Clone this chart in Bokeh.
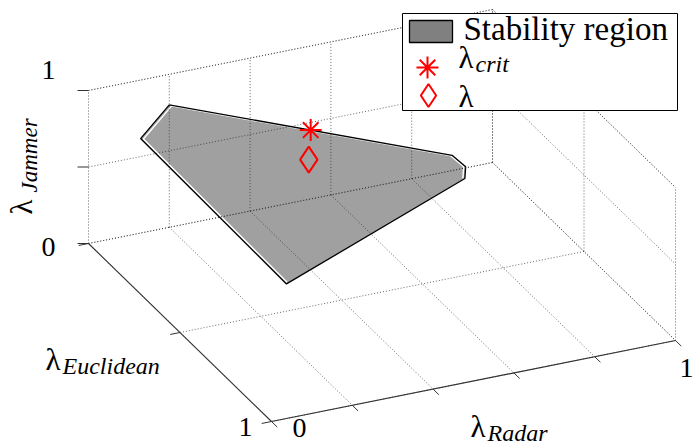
import numpy as np
from bokeh.plotting import figure
from bokeh.models import Range1d
from bokeh.core.properties import value
from bokeh.embed import file_html
from bokeh.resources import INLINE

# ---------------- data (lambda coordinates, each in [0, 1]) ----------------
region_radar = [0.20, 0.90, 0.92, 0.90, 0.25, 0.07]
region_euclid = [0.00, 0.00, 0.03, 0.07, 0.53, 0.13]
region_jammer = [0.80, 0.10, 0.05, 0.03, 0.22, 0.80]

crit_radar, crit_euclid, crit_jammer = [0.55], [0.00], [0.45]
lam_radar, lam_euclid, lam_jammer = [0.50], [0.10], [0.40]

radar_ticks = [0.0, 0.2, 0.4, 0.6, 0.8, 1.0]
euclid_ticks = [0.0, 0.5, 1.0]
jammer_ticks = [0.0, 0.5, 1.0]
radar_tick_labels = ["0", "1"]      # at radar = 0 and 1
euclid_tick_labels = ["1"]          # at euclid = 1
jammer_tick_labels = ["0", "1"]     # at jammer = 0 and 1
legend_labels = ["Stability region", "λ", "crit", "λ"]
axis_labels = ["Radar", "Euclidean", "Jammer"]

# ---------------- orthographic 3-D view ----------------
W, H = 693, 445
ORIGIN = np.array([88.0, 202.0])
AX_R = np.array([404.0, 81.0])
AX_E = np.array([183.0, -178.0])
AX_J = np.array([0.0, 153.0])
BASE_SHIFT = 0.36   # em offset between requested and rendered baseline


def proj(r, e, j):
    r = np.asarray(r, float)
    e = np.asarray(e, float)
    j = np.asarray(j, float)
    x = ORIGIN[0] + r * AX_R[0] + e * AX_E[0] + j * AX_J[0]
    y = ORIGIN[1] + r * AX_R[1] + e * AX_E[1] + j * AX_J[1]
    return x, y


def segs(pairs):
    xs, ys = [], []
    for a, b in pairs:
        x, y = proj([a[0], b[0]], [a[1], b[1]], [a[2], b[2]])
        xs.append(list(x))
        ys.append(list(y))
    return xs, ys


def Y(page_y):
    return H - page_y


def TY(baseline_page_y, size):
    return H - (baseline_page_y - BASE_SHIFT * size)


p = figure(width=W, height=H, x_range=Range1d(0, W), y_range=Range1d(0, H),
           output_backend="svg", toolbar_location=None, min_border=0,
           x_axis_location=None, y_axis_location=None)
p.xgrid.visible = False
p.ygrid.visible = False
p.outline_line_color = None
p.background_fill_color = "white"
p.border_fill_color = "white"

# ---------------- stability region ----------------
px, py = proj(region_radar, region_euclid, region_jammer)
p.patch(list(px), list(py), fill_color="#a0a0a0", line_color=None)
cx, cy = px.mean(), py.mean()
ix = cx + (px - cx) * 0.985
iy = cy + (py - cy) * 0.985
order = [4, 5, 0, 1, 2, 3]
p.line([ix[k] for k in order], [iy[k] for k in order], line_color="white", line_width=1.4)
loop = [0, 1, 2, 3, 4, 5, 0]
p.line([px[k] for k in loop], [py[k] for k in loop], line_color="black", line_width=1.3)

# ---------------- grid on the three back planes ----------------
pairs = []
for r in radar_ticks:
    pairs.append(((r, 0, 0), (r, 1, 0)))          # floor
    pairs.append(((r, 0, 0), (r, 0, 1)))          # back wall
for e in euclid_ticks:
    pairs.append(((0, e, 0), (1, e, 0)))          # floor
    pairs.append(((1, e, 0), (1, e, 1)))          # right wall
for j in jammer_ticks:
    pairs.append(((0, 0, j), (1, 0, j)))          # back wall
    pairs.append(((1, 0, j), (1, 1, j)))          # right wall
gx, gy = segs(pairs)
p.multi_line(gx, gy, line_color="#262626", line_alpha=0.7, line_dash="1 2", line_width=1)
bx, by = segs([((0, 0, 1), (1, 0, 1)), ((1, 0, 1), (1, 1, 1))])
p.multi_line(bx, by, line_color="#262626", line_alpha=0.6, line_dash="1 2", line_width=1)

# ---------------- axes and ticks ----------------
ax_x, ax_y = segs([((0, 0, 0), (0, 1, 0)), ((0, 1, 0), (1, 1, 0))])
p.multi_line(ax_x, ax_y, line_color="#333333", line_width=1.1)

uE = AX_E / np.linalg.norm(AX_E)
uR = -AX_R / np.linalg.norm(AX_R)
tx, ty = [], []
for r in radar_ticks:
    x0, y0 = proj(r, 1, 0)
    tx.append([float(x0), float(x0 + 8 * uE[0])])
    ty.append([float(y0), float(y0 + 8 * uE[1])])
for e in euclid_ticks:
    x0, y0 = proj(0, e, 0)
    tx.append([float(x0), float(x0 + 10 * uR[0])])
    ty.append([float(y0), float(y0 + 10 * uR[1])])
for j in jammer_ticks:
    x0, y0 = proj(0, 0, j)
    tx.append([float(x0), float(x0 - 11)])
    ty.append([float(y0), float(y0)])
p.multi_line(tx, ty, line_color="#333333", line_width=1)

# ---------------- markers ----------------
sx, sy = proj(crit_radar, crit_euclid, crit_jammer)
p.scatter(list(sx), list(sy), marker="asterisk", size=22, line_color="red", line_width=2)
dx, dy = proj(lam_radar, lam_euclid, lam_jammer)
p.scatter(list(dx), list(dy), marker="diamond", size=26, fill_color=None,
          line_color="red", line_width=2)

# ---------------- tick labels ----------------
SERIF = value("Liberation Serif")
TS, LS, SS, GS = 28, 31, 24, 33
p.text(x=[55, 55], y=[TY(257, TS), TY(80, TS)], text=jammer_tick_labels, text_font=SERIF,
       text_font_size=f"{TS}px", text_align="right", text_baseline="alphabetic",
       text_color="black")
p.text(x=[252], y=[TY(437, TS)], text=euclid_tick_labels, text_font=SERIF,
       text_font_size=f"{TS}px", text_align="right", text_baseline="alphabetic",
       text_color="black")
p.text(x=[299, 686], y=[TY(438, TS), TY(378, TS)], text=radar_tick_labels, text_font=SERIF,
       text_font_size=f"{TS}px", text_align="center", text_baseline="alphabetic",
       text_color="black")

# ---------------- axis labels ----------------
p.text(x=[470, 45], y=[TY(437, LS), TY(370, LS)], text=["λ", "λ"], text_font=SERIF,
       text_font_size=f"{LS}px", text_baseline="alphabetic", text_color="black")
p.text(x=[487, 62], y=[TY(441, SS), TY(374, SS)], text=axis_labels[:2], text_font=SERIF,
       text_font_size=f"{SS}px", text_font_style="italic", text_baseline="alphabetic",
       text_color="black")
p.text(x=[32 - BASE_SHIFT * LS], y=[Y(214)], text=["λ"], angle=np.pi / 2, text_font=SERIF,
       text_font_size=f"{LS}px", text_baseline="alphabetic", text_color="black")
p.text(x=[37 - BASE_SHIFT * 23], y=[Y(192)], text=[axis_labels[2]], angle=np.pi / 2,
       text_font=SERIF, text_font_size="23px", text_font_style="italic",
       text_baseline="alphabetic", text_color="black")

# ---------------- legend ----------------
p.quad(left=[402], right=[677], top=[Y(13)], bottom=[Y(110)], fill_color="white",
       line_color="black", line_width=1)
p.quad(left=[409], right=[452], top=[Y(20)], bottom=[Y(42)], fill_color="#808080",
       line_color="black", line_width=1.3)
p.scatter([427], [Y(67)], marker="asterisk", size=22, line_color="red", line_width=2)
p.scatter([428], [Y(95)], marker="diamond", size=23, fill_color=None, line_color="red",
          line_width=2)
p.text(x=[463], y=[TY(40, GS)], text=[legend_labels[0]], text_font=SERIF,
       text_font_size=f"{GS}px", text_baseline="alphabetic", text_color="black")
p.text(x=[458, 458], y=[TY(68, LS), TY(107, LS)], text=[legend_labels[1], legend_labels[3]],
       text_font=SERIF, text_font_size=f"{LS}px", text_baseline="alphabetic",
       text_color="black")
p.text(x=[475], y=[TY(72, SS)], text=[legend_labels[2]], text_font=SERIF,
       text_font_size=f"{SS}px", text_font_style="italic", text_baseline="alphabetic",
       text_color="black")

open("out.html", "w").write(file_html(p, INLINE))
